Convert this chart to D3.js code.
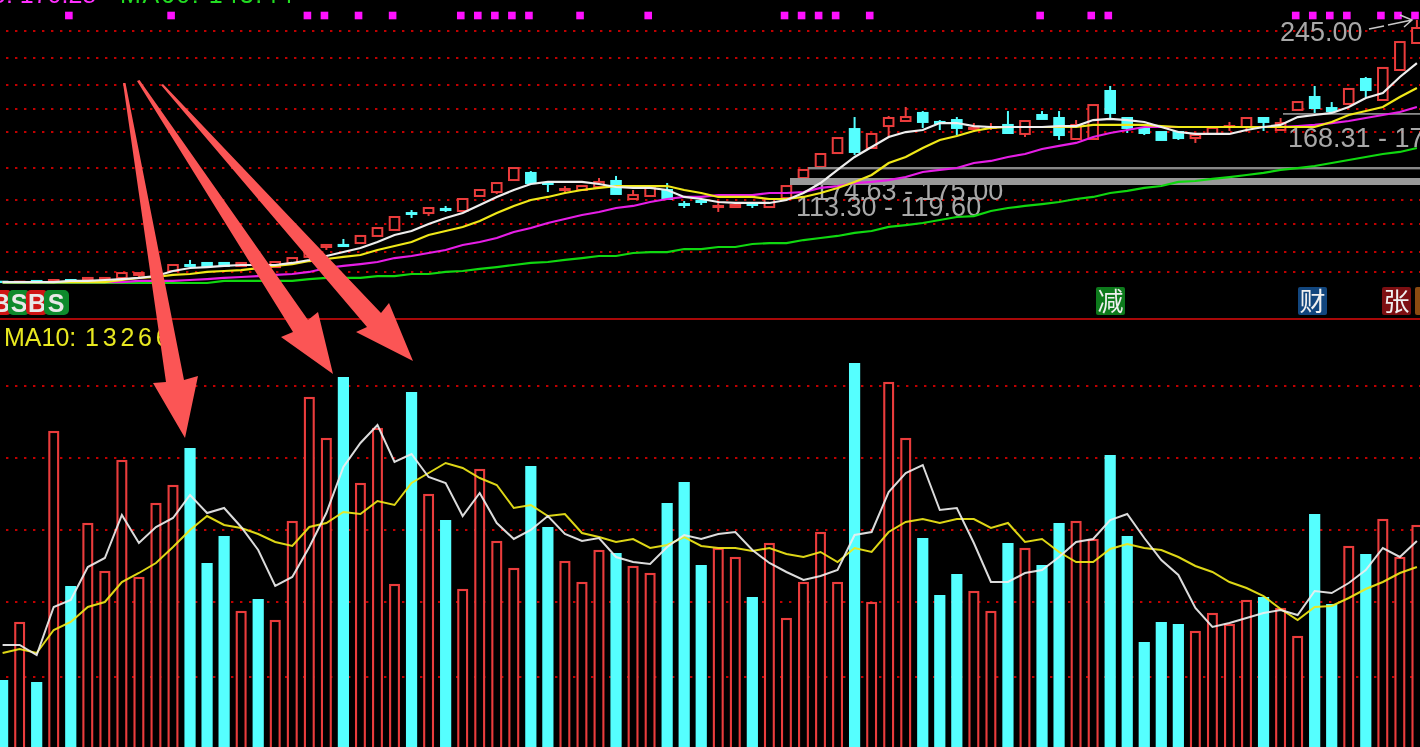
<!DOCTYPE html>
<html><head><meta charset="utf-8">
<script src="https://cdn.jsdelivr.net/npm/d3@7/dist/d3.min.js"></script>
<style>html,body{margin:0;padding:0;background:#000;overflow:hidden}svg{display:block;filter:blur(.35px)}</style>
</head><body><svg id="c" width="1420" height="747"></svg>
<script>
// Session index 0..83. All values.
const opens=[28.6,28.3,29.2,28.3,30,30,30,31.7,34.2,32.5,37.5,42.5,44.2,44.2,41.7,45,40.8,44.2,49.2,57.5,59.2,60.8,66.7,71.7,85.8,85.8,89.2,87.5,100,103.3,113.3,119.2,110.8,105,105,107.5,112.5,97.5,100,105,93.3,95.8,90.8,90.8,93.3,90.8,98.3,115,124.2,135.8,155.8,140,158.3,162.5,169.2,161.7,163.3,155.8,156.7,159.2,151.7,167.5,165,147.5,147.5,187.5,165,156.7,153.3,153.3,148.3,151.7,157.5,157.5,165,155,171.7,182.5,173.3,176.7,197.5,180,205,227.5];
const closes=[28.3,28.6,28.3,30,28.3,31.7,31.7,35.8,35.8,35,42.5,41.7,41.7,41.7,44.2,42.5,45,48.3,53.3,59.2,58.3,66.7,73.3,82.5,85,90,88.3,97.5,105,110.8,123.3,110.8,110,105.8,108.3,111.7,101.7,100.8,106.7,97.5,92.5,95,91.7,92.5,92.5,97.5,108.3,121.7,135,148.3,136.7,151.7,165,165.8,161.7,160.8,156.7,156.7,157.5,152.5,162.5,164.2,150.8,159.2,175.8,169.2,156.7,152.5,146.7,148.3,150.8,156.7,158.3,165,161.7,160.8,178.3,173.3,170.8,189.2,188.3,206.7,228.3,240];
const highs=[28.6,28.6,29.2,30,30,31.7,31.7,35.8,35.8,35,42.5,46.7,44.2,44.2,44.2,45,45,48.3,53.3,59.2,64.2,66.7,73.3,82.5,88.3,90,91.7,97.5,105,110.8,123.3,120.8,110.8,108.3,108.3,115,116.7,105,106.7,110.8,95.8,96.7,95.8,95,95,97.5,108.3,121.7,135,148.3,165.8,151.7,166.7,174.2,170.8,163.3,165.8,160.8,160.8,170.8,162.5,170.8,170.8,163.3,175.8,191.7,165,156.7,153.3,153.3,150.8,156.7,161.7,165,165,165,178.3,191.7,178.3,189.2,199.2,206.7,228.3,246.7];
const lows=[28.3,28.3,28.3,28.3,28.3,30,30,31.7,32.5,32.5,37.5,41.7,41.7,41.7,41.7,42.5,40.8,44.2,49.2,55,58.3,60.8,66.7,71.7,81.7,83.3,86.7,87.5,100,101.7,113.3,110.8,103.3,103.3,105,107.5,101.7,97.5,100,97.5,90,92.5,86.7,90.8,90,90.8,98.3,115,124.2,135.8,134.2,140,148.3,162.5,156.7,155,150.8,153.3,155,152.5,149.2,164.2,146.7,147.5,147.5,163.3,152.5,150.8,146.7,146.7,144.2,151.7,154.2,153.3,154.2,155,171.7,169.2,170.8,176.7,182.5,180,205,227.5];
const ma5=[28.3,28.3,28.3,28.3,29.2,29.2,30,30.8,31.7,33.3,37.5,40,40.8,41.7,42.5,42.5,42.5,44.2,46.7,50,53.3,56.7,61.7,67.5,70.8,76.7,81.7,85.8,92.5,99.2,105,110,111.7,111.7,111.7,110,107.5,106.7,106.7,105,99.2,97.5,95,94.2,94.2,94.2,96.7,102.5,110.8,121.7,132.5,140.8,149.2,153.3,155,160.8,160.8,158.3,157.5,157.5,157.5,157.5,158.3,158.3,163.3,164.2,163.3,161.7,157.5,153.3,151.7,151.7,151.7,155,157.5,159.2,165.8,167.5,169.2,174.2,181.7,185.8,199.2,210.8];
const ma10=[28.3,28.3,28.3,28.3,28.3,28.3,28.3,30,31.7,32.5,34.2,35,36.7,37.5,38.3,40,41.7,43.3,45.8,47.5,49.2,50.8,55,58.3,61.7,67.5,70.8,74.2,79.2,85.8,91.7,96.7,99.2,102.5,105,106.7,108.3,108.3,108.3,108.3,105,102.5,99.2,99.2,99.2,97.5,97.5,99.2,102.5,106.7,111.7,117.5,127.5,132.5,140,146.7,150,154.2,156.7,157.5,157.5,157.5,157.5,157.5,159.2,159.2,159.2,159.2,158.3,157.5,157.5,157.5,157.5,157.5,157.5,157.5,157.5,157.5,161.7,167.5,170.8,174.2,182.5,190];
const ma20=[28.3,28.3,28.3,28.3,28.3,28.3,28.3,28.3,29.2,29.2,29.2,30,30.8,31.7,32.5,33.3,34.2,35,36.7,40,41.7,43.3,45,48.3,50,52.5,55,59.2,61.7,65,70,73.3,77.5,80.8,84.2,86.7,90,91.7,95,97.5,99.2,99.2,100.8,100.8,100.8,102.5,102.5,103.3,106.7,108.3,110.8,111.7,113.3,115.8,120,121.7,123.3,127.5,129.2,132.5,135,139.2,141.7,144.2,149.2,152.5,155,157.5,157.5,157.5,157.5,157.5,157.5,157.5,157.5,157.5,158.3,159.2,160.8,162.5,165,167.5,170,174.2];
const ma60=[27.5,27.5,27.5,27.5,27.5,27.5,27.5,27.5,27.5,27.5,27.5,27.5,27.5,29.2,29.2,29.2,29.2,29.2,30.8,31.7,31.7,31.7,33.3,33.3,35,35,36.7,37.5,39.2,40.8,42.5,44.2,45,46.7,48.3,50,50,52.5,53.3,53.3,55.8,55.8,57.5,57.5,60,60.8,60.8,63.3,65,66.7,69.2,70.8,74.2,75.8,77.5,80,82.5,83.3,87.5,90,91.7,93.3,95,97.5,99.2,102.5,104.2,106.7,108.3,111.7,112.5,114.2,115.8,117.5,119.2,121.7,123.3,125,127.5,130,132.5,135,136.7,140];
// Volume, in relative units (about 737 lots per unit)
const volumes=[67,125,65,316,161,224,176,287,170,244,262,299,184,211,136,148,127,226,350,309,370,264,319,163,355,253,227,158,278,206,179,281,220,186,165,197,194,181,174,244,265,182,199,190,150,204,129,165,215,165,384,145,365,309,209,152,173,156,136,204,199,182,224,226,208,292,211,105,125,123,116,134,123,147,150,139,111,233,143,201,193,228,190,222];
const volMa5=[102,102,92,140,147,180,189,232,204,220,229,252,234,239,220,197,161,170,200,234,280,304,322,285,293,270,264,231,254,224,208,217,231,213,206,209,190,185,183,200,212,208,213,215,197,184,175,167,171,177,212,215,255,274,282,237,239,204,165,165,174,177,190,205,208,227,233,209,187,172,139,120,124,129,134,137,132,156,154,164,177,199,190,206];
const volMa10=[94,98,94,117,125,140,145,165,174,184,200,217,231,222,219,213,205,201,220,224,235,233,246,242,264,274,284,279,269,262,239,242,231,233,214,210,205,208,199,202,210,201,199,199,196,199,193,190,195,185,199,195,215,225,228,224,228,228,219,224,205,208,195,185,185,198,203,199,197,190,181,175,165,159,151,138,127,140,141,149,158,165,174,180];
const signalDays=[4,10,18,19,21,23,27,28,29,30,31,34,38,46,47,48,49,51,61,64,65,76,77,78,79,81,82,83];
const priceGrid=[237.5,215,192.5,172.5,153.3,123.3,96.7,76.7,53.3,36.7];
const volGrid=[361,289,217,145,70];
const bsBadges=[["B","#d01414"],["S","#0d8a2c"],["B","#d01414"],["S","#0d8a2c"]];

const RED="#ea3c3c",CYAN="#55ffff";
const days=d3.range(opens.length);
const x=d3.scaleLinear().domain([0,83]).range([2.6,1416.9]);
const yP=d3.scaleLinear().domain([0,263.33]).range([316,0]);
const yV=d3.scaleLinear().domain([0,600]).range([747,147]);
const svg=d3.select("#c");
svg.append("rect").attr("width",1420).attr("height",747).attr("fill","#000");

function grid(vals,scale,xStart){
  svg.append("g").selectAll("line").data(vals).join("line")
   .attr("x1",xStart).attr("x2",1420).attr("y1",d=>scale(d)).attr("y2",d=>scale(d))
   .attr("stroke","#c00000").attr("stroke-width",2).attr("stroke-dasharray","2.4 6.6");
}
grid(priceGrid,yP,6);
grid(volGrid,yV,6);

// top legend (cut by the window edge)
const legendTop=svg.append("g").attr("font-family","Liberation Sans").attr("font-size",25);
legendTop.append("text").attr("x",-8).attr("y",3).attr("fill","#ff30ff").text("5: 170.28");
legendTop.append("text").attr("x",120).attr("y",3).attr("fill","#22dd22").attr("letter-spacing",1.6).text("MA60: 143.44");

// signal squares
svg.append("g").selectAll("rect").data(signalDays).join("rect")
 .attr("x",d=>x(d)-5.7).attr("y",11.7).attr("width",7.6).attr("height",7.6).attr("fill","#ff10ff");

// candles
const cg=svg.append("g");
const isDown=i=>closes[i]<opens[i];
cg.selectAll("line").data(days).join("line")
 .attr("x1",x).attr("x2",x).attr("y1",i=>yP(highs[i])).attr("y2",i=>yP(lows[i]))
 .attr("stroke",i=>isDown(i)?CYAN:RED).attr("stroke-width",2);
cg.selectAll("rect").data(days).join("rect")
 .attr("x",i=>x(i)-4.8).attr("width",9.6)
 .attr("y",i=>yP(Math.max(opens[i],closes[i])))
 .attr("height",i=>Math.abs(yP(opens[i])-yP(closes[i])))
 .attr("fill",i=>isDown(i)?CYAN:"#000")
 .attr("stroke",i=>isDown(i)?CYAN:RED).attr("stroke-width",2);

// price annotations (text beneath the gap band)
const ann=svg.append("g").attr("font-family","Liberation Sans").attr("font-size",27).attr("fill","#a8a8a8");
ann.append("text").attr("x",814).attr("y",200).text("174.63 - 175.00");
ann.append("text").attr("x",796).attr("y",216).text("113.30 - 119.60");
ann.append("text").attr("x",1288).attr("y",147).text("168.31 - 17");
ann.append("text").attr("x",1280).attr("y",41).text("245.00");
svg.append("rect").attr("x",790).attr("y",178).attr("width",630).attr("height",7).attr("fill","#999");
svg.append("rect").attr("x",808).attr("y",167).attr("width",612).attr("height",2.4).attr("fill","#888");
svg.append("rect").attr("x",1283).attr("y",113).attr("width",137).attr("height",1.8).attr("fill","#888");

// moving averages, price panel
const lineP=d3.line().x((d,i)=>x(i)).y(d=>yP(d));
[[ma60,"#10d810"],[ma20,"#e61ee6"],[ma10,"#f0e818"],[ma5,"#eeeeee"]].forEach(([s,c])=>
 svg.append("path").attr("d",lineP(s)).attr("fill","none").attr("stroke",c).attr("stroke-width",2.2));

// arrow after the 245.00 label
svg.append("path").attr("d","M1369,29L1384,26M1388,25L1412,20M1400,15L1412,20L1404,27").attr("fill","none").attr("stroke","#c8c8c8").attr("stroke-width",1.5);

// B/S badges
const bs=svg.append("g").attr("font-family","Liberation Sans").attr("font-weight","bold").attr("font-size",25);
const bsX=d3.scaleLinear().domain([0,3]).range([-10,44]);
bsBadges.forEach(([t,c],i)=>{
  bs.append("rect").attr("x",bsX(i)).attr("y",290).attr("width",i==3?25:22).attr("height",25).attr("rx",5).attr("fill",c);
  bs.append("text").attr("x",bsX(i)+(i==3?12:11)).attr("y",312).attr("text-anchor","middle").attr("fill","#e8e8e8").text(t);
});
// news badges
[["减",1096,"#0d7a1c"],["财",1298,"#12467e"],["张",1382,"#7d0f12"],["",1415,"#8a4a10"]].forEach(([t,bx,c])=>{
  svg.append("rect").attr("x",bx).attr("y",287).attr("width",29).attr("height",28).attr("rx",2).attr("fill",c);
  svg.append("text").attr("x",bx+14.5).attr("y",311).attr("text-anchor","middle").attr("font-family","Noto Sans CJK SC").attr("font-size",26).attr("fill","#f0f0f0").text(t);
});

// panel divider
svg.append("rect").attr("x",0).attr("y",318).attr("width",1420).attr("height",2).attr("fill","#a80808");

// volume label
const vl=svg.append("text").attr("x",4).attr("y",346).attr("font-family","Liberation Sans").attr("font-size",25).attr("fill","#e8e820");
vl.append("tspan").text("MA10:");
vl.append("tspan").attr("x",85).attr("letter-spacing",3.8).text("13266");

// volume bars
const vg=svg.append("g");
vg.selectAll("rect").data(days).join("rect")
 .attr("x",i=>x(i)-(isDown(i)?5.6:4.4)).attr("width",i=>isDown(i)?11.2:8.8)
 .attr("y",i=>yV(volumes[i])+(isDown(i)?0:1))
 .attr("height",i=>yV(0)-yV(volumes[i])+5)
 .attr("fill",i=>isDown(i)?CYAN:"#000")
 .attr("stroke",i=>isDown(i)?"none":RED).attr("stroke-width",2.1);

// volume moving averages
const lineV=d3.line().x((d,i)=>x(i)).y(d=>yV(d));
[[volMa10,"#f0e818"],[volMa5,"#eeeeee"]].forEach(([s,c])=>
 svg.append("path").attr("d",lineV(s)).attr("fill","none").attr("stroke",c).attr("stroke-width",2).attr("opacity",.92));

// hand-drawn annotation arrows
const ARROWS=[
 [[123,83],[125.5,83],[184,380],[198,376],[185,438],[153,383],[166,382]],
 [[137,81],[139.5,80],[308,320],[318,312],[333,374],[281,337],[293,332]],
 [[161,85],[163,84],[381,313],[389,303],[413,361],[356,332],[367,327]]
];
svg.append("g").selectAll("path").data(ARROWS).join("path")
 .attr("d",d=>d3.line()(d)+"Z").attr("fill","#fb5555");
</script></body></html>
